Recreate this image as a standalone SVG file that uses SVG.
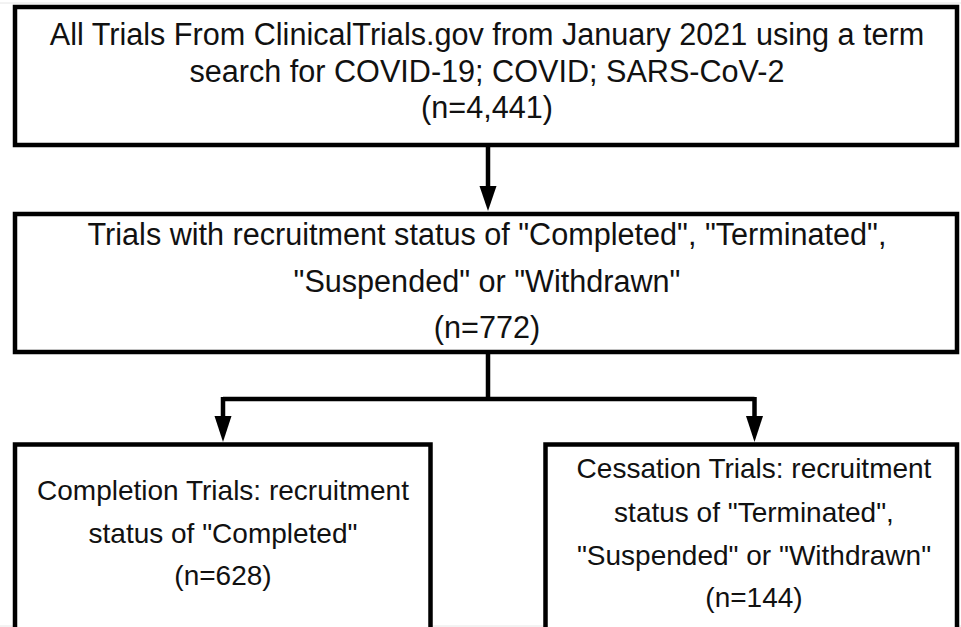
<svg xmlns="http://www.w3.org/2000/svg" width="961" height="627" viewBox="0 0 961 627">
<defs>
<style>
.box{fill:#fff;stroke:#000;stroke-width:4.5}
.t{font-family:"Liberation Sans",Arial,sans-serif;font-size:28px;fill:#111;text-anchor:middle}
.big{font-size:30.6px}
.c{fill:none;stroke:#000;stroke-width:4.5}
.ah{fill:#000}
</style>
</defs>
<rect width="961" height="627" fill="#fff"/>
<line x1="0" y1="3" x2="961" y2="3" stroke="#e6e6e6" stroke-width="1"/>
<line x1="0" y1="626" x2="961" y2="626" stroke="#e6e6e6" stroke-width="1"/>
<g id="connectors">
<path class="c" d="M488,147 V190" />
<path class="c" d="M488,354 V399 M223,399 H754.5" />
<path class="c" d="M223,397 V420" />
<path class="c" d="M754.5,397 V420" />
<path class="ah" d="M479.5,186 L496.5,186 L488,211 Z"/>
<path class="ah" d="M214.5,416 L231.5,416 L223,442 Z"/>
<path class="ah" d="M746,416 L763,416 L754.5,442 Z"/>
</g>
<g id="n1">
<rect class="box" x="15" y="7" width="942" height="138"/>
<text class="t big" x="487" y="45">All Trials From ClinicalTrials.gov from January 2021 using a term</text>
<text class="t big" x="487" y="82">search for COVID-19; COVID; SARS-CoV-2</text>
<text class="t big" x="487" y="118">(n=4,441)</text>
</g>
<g id="n2">
<rect class="box" x="15" y="214" width="942" height="138"/>
<text class="t big" x="487" y="245">Trials with recruitment status of "Completed", "Terminated",</text>
<text class="t big" x="487" y="292">"Suspended" or "Withdrawn"</text>
<text class="t big" x="487" y="338">(n=772)</text>
</g>
<g id="n3">
<rect class="box" x="15" y="444.5" width="415.5" height="200"/>
<text class="t" x="223" y="500">Completion Trials: recruitment</text>
<text class="t" x="223" y="543">status of "Completed"</text>
<text class="t" x="223" y="585">(n=628)</text>
</g>
<g id="n4">
<rect class="box" x="545.5" y="444.5" width="411.5" height="200"/>
<text class="t" x="754" y="478">Cessation Trials: recruitment</text>
<text class="t" x="754" y="522">status of "Terminated",</text>
<text class="t" x="754" y="565">"Suspended" or "Withdrawn"</text>
<text class="t" x="754" y="607">(n=144)</text>
</g>
</svg>
